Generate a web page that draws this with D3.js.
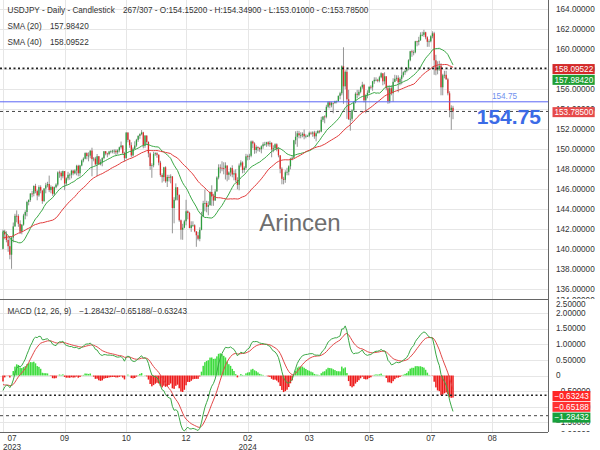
<!DOCTYPE html>
<html>
<head>
<meta charset="UTF-8">
<title>USDJPY Daily</title>
<script src="https://cdn.jsdelivr.net/npm/d3@7"></script>
<style>
    body{margin:0;padding:0;background:#fff;}
    svg{display:block;font-family:"Liberation Sans",Arial,sans-serif;}
    .grid line{stroke:#e6e6e6;stroke-width:1;shape-rendering:crispEdges;}
    .lbl{font-size:8.2px;fill:#333;}
    .axisline{stroke:#666;stroke-width:1;shape-rendering:crispEdges;}
</style>
</head>
<body>
<svg id="chart" width="600" height="450"></svg>
<script>
// closes before the first visible bar (only used to start SMA / MACD)
var warmup = [139.50,140.10,140.60,140.45,139.80,139.30,138.80,139.95,139.60,139.60,140.10,139.00,139.40,139.60,140.20,140.00,140.30,141.80,141.90,141.45,141.90,142.90,143.70,143.50,144.00,144.30,144.70,144.30,144.60,144.50,144.10,144.05,142.15,141.35,140.35,138.50,138.10,138.80,138.75,138.90,139.65,140.05];

// visible daily bars, 2023-07-21 .. 2024-07-26
var closes = [
 141.78,141.49,140.93,140.31,139.46,141.17,142.29,
 143.35,143.32,142.55,141.76,142.47,143.38,143.73,144.73,144.93,145.58,145.56,146.33,145.82,145.39,146.22,145.88,144.82,146.08,146.40,146.53,145.92,146.24,145.55,
 146.21,146.47,147.69,147.66,147.30,147.82,146.58,147.10,147.45,147.46,147.86,147.60,147.88,148.35,147.60,148.38,148.88,149.06,149.62,149.32,149.37,
 149.87,149.02,149.07,148.50,149.31,148.50,148.72,149.12,149.80,149.58,149.52,149.78,149.80,149.86,149.86,149.70,149.89,150.20,150.38,149.62,149.12,151.67,
 150.94,150.41,149.39,150.05,150.38,150.95,151.34,151.52,151.69,150.38,151.37,150.73,149.59,148.33,148.40,149.52,149.60,149.45,148.67,147.43,147.22,148.20,
 146.80,147.23,147.17,147.28,144.13,144.95,146.20,145.42,142.90,141.95,142.16,142.80,143.80,143.63,142.13,142.40,142.40,141.80,141.40,141.05,
 141.95,143.30,144.60,144.63,144.25,144.42,145.73,145.28,144.88,145.78,147.18,148.18,148.15,148.13,148.12,148.38,147.45,147.68,148.12,147.48,147.60,146.92,
 146.45,148.38,148.68,147.93,148.15,149.30,149.28,149.35,150.78,150.58,149.93,150.22,150.12,150.00,150.30,150.50,150.50,150.70,150.50,150.65,149.98,
 150.10,150.50,150.00,149.40,148.05,147.05,146.95,147.70,147.75,148.30,149.05,149.15,150.90,151.25,151.60,151.40,151.40,151.55,151.30,151.35,151.35,
 151.65,151.57,151.68,151.30,151.60,151.85,151.78,152.95,153.28,153.25,154.25,154.70,154.40,154.65,154.60,154.82,154.82,155.35,155.60,158.30,156.30,157.75,
 155.00,153.00,153.05,153.90,154.70,155.55,155.45,155.75,156.20,156.45,154.90,155.40,155.65,156.25,156.20,156.80,156.95,156.95,156.85,157.20,157.60,156.80,157.30,
 156.10,154.80,156.10,155.60,156.75,157.05,157.15,156.70,157.05,157.40,157.70,157.85,158.10,158.90,159.80,159.70,159.70,160.80,160.75,160.90,
 161.45,161.45,161.70,161.20,160.75,160.80,161.30,161.60,158.90,157.90,158.00,158.35,156.20,157.40,157.45,157.00,155.60,153.90,154.152,153.785
];
var highs = [
 141.95,141.95,141.80,141.20,141.32,141.30,142.68,
 143.55,143.89,143.50,142.90,142.50,143.55,143.90,144.85,145.00,145.60,145.85,146.40,146.55,145.95,146.40,146.40,145.90,146.10,146.65,146.75,147.37,146.40,146.30,
 146.28,146.60,147.80,147.87,147.82,147.88,147.05,147.20,147.75,147.60,147.95,147.95,148.00,148.45,148.45,148.45,148.97,149.19,149.70,149.70,149.70,
 149.90,150.16,149.22,149.25,149.53,149.25,149.00,149.20,149.83,149.83,149.65,149.85,149.90,149.95,150.00,150.00,150.00,150.27,150.78,150.40,149.75,151.72,
 151.71,150.98,150.70,150.19,150.80,151.05,151.40,151.60,151.92,151.75,151.42,151.40,150.80,149.70,148.60,149.75,149.70,149.70,149.50,148.85,147.60,148.25,
 148.30,147.45,147.45,147.50,147.33,145.21,146.59,146.15,145.50,142.98,142.55,142.95,144.95,143.90,143.75,142.80,142.80,142.50,141.70,141.75,
 142.20,143.75,144.85,145.98,144.85,144.80,145.80,146.40,145.55,146.00,147.30,148.50,148.50,148.80,148.70,148.70,148.35,147.80,148.20,148.40,147.90,148.00,
 147.20,148.58,148.90,148.80,148.30,149.55,149.48,149.55,150.88,150.88,150.70,150.40,150.30,150.20,150.40,150.70,150.75,150.75,150.80,150.85,150.70,
 150.40,150.60,150.60,150.20,149.40,148.20,147.25,147.90,148.15,148.40,149.15,149.30,150.95,151.80,151.85,151.85,151.70,151.70,151.98,151.50,151.45,
 151.78,151.77,151.80,151.85,151.80,151.90,151.90,153.25,153.32,153.40,154.45,154.80,154.80,154.75,154.65,154.86,154.88,155.37,155.75,158.40,160.20,157.90,
 157.99,155.95,153.70,154.00,154.80,155.70,155.95,155.95,156.30,156.75,156.55,155.50,155.90,156.30,156.40,156.85,157.20,157.20,157.05,157.35,157.70,157.55,157.70,
 157.30,156.40,156.40,156.40,157.10,157.45,157.40,157.40,157.20,158.25,157.80,157.95,158.20,159.00,159.85,159.95,159.90,160.85,160.85,161.25,
 161.70,161.75,161.95,161.75,161.30,161.00,161.40,161.80,161.75,159.45,158.80,158.85,158.60,157.55,157.85,157.85,157.15,155.80,154.40,154.349
];
var lows = [
 139.98,141.00,140.70,139.75,139.00,138.05,140.70,
 142.25,142.70,142.25,141.53,141.50,142.36,143.00,143.30,144.40,144.75,145.20,145.30,145.60,144.90,145.25,145.60,144.55,144.75,145.60,146.20,145.72,145.60,145.35,
 145.35,146.10,146.30,147.15,146.90,147.10,145.91,146.35,146.90,146.95,147.10,147.40,147.50,147.40,147.30,147.30,148.30,148.70,149.00,149.00,148.80,
 149.10,147.30,148.80,148.40,147.30,148.50,148.40,148.30,149.00,149.40,149.20,149.40,149.60,149.60,149.55,149.40,149.50,149.70,150.05,149.50,148.80,149.05,
 150.70,150.15,149.20,149.30,150.00,150.25,150.75,151.05,151.40,150.10,150.15,150.45,149.20,147.95,147.15,148.20,149.35,149.15,148.40,147.25,146.67,146.80,
 146.65,146.23,146.78,146.60,141.60,142.60,144.85,144.90,142.75,140.97,140.95,142.10,142.40,143.00,142.10,141.75,142.25,141.70,140.25,140.90,
 140.80,141.90,143.20,143.80,143.70,143.40,144.35,144.35,144.35,144.85,145.80,147.00,147.60,147.80,147.50,146.98,146.80,146.95,147.30,147.20,146.90,146.70,
 146.00,145.90,148.20,147.60,147.65,147.95,148.90,148.95,149.20,150.10,149.55,149.60,149.80,149.75,149.60,150.05,150.35,150.25,150.30,150.25,149.20,
 149.70,149.95,149.80,149.20,147.60,146.50,146.50,146.65,147.40,147.40,148.00,148.90,149.20,150.50,150.25,151.10,151.10,151.20,151.00,151.10,151.25,
 151.20,151.45,151.25,151.05,150.80,151.60,151.60,151.70,152.75,152.60,153.10,154.10,154.10,154.20,153.60,154.60,154.60,154.75,155.00,155.40,154.55,156.00,
 153.05,152.95,151.86,152.80,153.80,154.60,155.10,155.30,155.60,156.05,154.70,153.60,155.10,155.60,156.00,155.85,156.55,156.80,156.70,156.70,157.10,156.40,156.50,
 155.90,154.55,154.60,155.40,154.75,156.70,156.85,155.70,156.40,156.50,157.20,157.45,157.70,157.90,158.80,159.25,159.40,159.60,160.30,160.40,
 160.85,161.30,161.25,161.00,160.25,160.25,160.70,161.10,157.45,157.40,157.50,157.85,155.40,155.40,157.10,156.95,155.40,153.20,151.95,153.01
];

var priceTicks = [134,136,138,140,142,144,146,148,150,152,154,156,158,160,162,164];
var macdTicks = [-2,-1.5,-1,-0.5,0,0.5,1,1.5,2,2.5];
var xTickBars = [0,36,72,107,143,179,214,250,286];
var xTickLabels = [["07","2023"],["09"],["10"],["12"],["02","2024"],["03"],["05"],["07"],["08"]];

var smaPeriods = [20,40];
var smaLast = [157.98420,158.09522];
var macdLast = [-1.28432,-0.65188,-0.63243];   // macd, signal, histogram
var lastClose = 153.785;
var markLevel = 154.75;

var svg = d3.select("#chart");
var plotR = 548, priceBottom = 298.5, macdTop = 300, macdBottom = 432;

var n = Math.min(closes.length, highs.length, lows.length);
var x = d3.scaleLinear().domain([0, n-1]).range([3, 453]);
var yP = d3.scaleLinear().domain([134,164]).range([309.3, 9.3]);
var yM = d3.scaleLinear().domain([-2,2.5]).range([438.1, 297.25]);

// derived series
var all = warmup.concat(closes.slice(0,n));
var off = warmup.length;
var opens = closes.slice(0,n).map(function(c,i){ return i===0 ? warmup[off-1] : closes[i-1]; });
function sma(p){
    return closes.slice(0,n).map(function(c,i){ return d3.mean(all.slice(i+off-p+1, i+off+1)); });
}
function ema(arr,p){
    var k = 2/(p+1), prev = arr[0];
    return arr.map(function(v,i){ prev = i===0 ? v : v*k + prev*(1-k); return prev; });
}
var e12 = ema(all,12), e26 = ema(all,26);
var macdAll = all.map(function(v,i){ return e12[i]-e26[i]; });
var sigAll = ema(macdAll,9);
var macd = macdAll.slice(off), signal = sigAll.slice(off);
var hist = macd.map(function(v,i){ return v - signal[i]; });

var defs = svg.append("defs");
defs.append("clipPath").attr("id","clipP").append("rect")
    .attr("x",0).attr("y",0).attr("width",plotR).attr("height",priceBottom);
defs.append("clipPath").attr("id","clipM").append("rect")
    .attr("x",0).attr("y",macdTop).attr("width",plotR).attr("height",macdBottom-macdTop);
defs.append("clipPath").attr("id","clipPA").append("rect")
    .attr("x",plotR).attr("y",0).attr("width",52).attr("height",299);
defs.append("clipPath").attr("id","clipMA").append("rect")
    .attr("x",plotR).attr("y",300).attr("width",52).attr("height",132);

// grid
var grid = svg.append("g").attr("class","grid");
grid.selectAll(".v").data(xTickBars).enter().append("line")
    .attr("x1",function(d){ return Math.round(x(d))+0.5; })
    .attr("x2",function(d){ return Math.round(x(d))+0.5; })
    .attr("y1",0).attr("y2",macdBottom);
grid.append("g").attr("clip-path","url(#clipP)")
    .selectAll("line").data(priceTicks).enter().append("line")
    .attr("x1",0).attr("x2",plotR)
    .attr("y1",function(d){ return Math.round(yP(d))+0.5; })
    .attr("y2",function(d){ return Math.round(yP(d))+0.5; });
grid.append("g").attr("clip-path","url(#clipM)")
    .selectAll("line").data(macdTicks).enter().append("line")
    .attr("x1",0).attr("x2",plotR)
    .attr("y1",function(d){ return Math.round(yM(d))+0.5; })
    .attr("y2",function(d){ return Math.round(yM(d))+0.5; });

// watermark
svg.append("text").attr("x",300).attr("y",231).attr("text-anchor","middle")
    .style("font-size","24px").style("fill","#6e6e6e").text("Arincen");

// price panel
var pg = svg.append("g").attr("clip-path","url(#clipP)");
var idx = d3.range(n);

pg.selectAll(".wick").data(idx).enter().append("line")
    .attr("class","wick")
    .attr("x1",function(i){ return x(i); }).attr("x2",function(i){ return x(i); })
    .attr("y1",function(i){ return yP(Math.max(highs[i],opens[i],closes[i])); })
    .attr("y2",function(i){ return yP(Math.min(lows[i],opens[i],closes[i])); })
    .attr("stroke","#8a8a8a").attr("stroke-width",0.9);

pg.selectAll(".body").data(idx).enter().append("rect")
    .attr("class","body")
    .attr("x",function(i){ return x(i)-0.65; })
    .attr("width",1.3)
    .attr("y",function(i){ return yP(Math.max(opens[i],closes[i])); })
    .attr("height",function(i){ return Math.max(0.8, Math.abs(yP(opens[i])-yP(closes[i]))); })
    .attr("fill",function(i){ return closes[i]>=opens[i] ? "#2e9e3e" : "#e02828"; });

var smaColors = ["#3aa845","#e23b3b"];
smaPeriods.forEach(function(p,k){
    var s = sma(p);
    pg.append("path").datum(idx)
        .attr("fill","none").attr("stroke",smaColors[k]).attr("stroke-width",1)
        .attr("d", d3.line().x(function(i){ return x(i); }).y(function(i){ return yP(s[i]); }));
});

// level lines
pg.append("line").attr("x1",0).attr("x2",plotR)
    .attr("y1",yP(smaLast[1])).attr("y2",yP(smaLast[1]))
    .attr("stroke","#222").attr("stroke-width",1.6).attr("stroke-dasharray","2,2.5");
pg.append("line").attr("x1",0).attr("x2",plotR)
    .attr("y1",yP(lastClose)).attr("y2",yP(lastClose))
    .attr("stroke","#444").attr("stroke-width",1).attr("stroke-dasharray","3,3");
pg.append("line").attr("x1",0).attr("x2",plotR)
    .attr("y1",yP(markLevel)).attr("y2",yP(markLevel))
    .attr("stroke","#5a66f5").attr("stroke-width",1);
svg.append("text").attr("x",517).attr("y",yP(markLevel)-2.5).attr("text-anchor","end")
    .style("font-size","8.2px").style("fill","#7090ee").text(d3.format(".2f")(markLevel));
svg.append("text").attr("x",541).attr("y",yP(markLevel)+22).attr("text-anchor","end")
    .style("font-size","21px").style("font-weight","bold").style("fill","#3b6be6")
    .text(d3.format(".2f")(markLevel));

// MACD panel
var mg = svg.append("g").attr("clip-path","url(#clipM)");
mg.selectAll(".hist").data(idx).enter().append("rect")
    .attr("class","hist")
    .attr("x",function(i){ return x(i)-0.75; })
    .attr("width",1.5)
    .attr("y",function(i){ return Math.min(yM(0), yM(hist[i])); })
    .attr("height",function(i){ return Math.abs(yM(hist[i])-yM(0)); })
    .attr("fill",function(i){ return hist[i]>=0 ? "#3fdc3f" : "#ee1c1c"; });
mg.append("path").datum(idx)
    .attr("fill","none").attr("stroke","#e24848").attr("stroke-width",1)
    .attr("d", d3.line().x(function(i){ return x(i); }).y(function(i){ return yM(signal[i]); }));
mg.append("path").datum(idx)
    .attr("fill","none").attr("stroke","#3aa845").attr("stroke-width",1)
    .attr("d", d3.line().x(function(i){ return x(i); }).y(function(i){ return yM(macd[i]); }));
mg.append("line").attr("x1",0).attr("x2",plotR)
    .attr("y1",yM(macdLast[2])).attr("y2",yM(macdLast[2]))
    .attr("stroke","#222").attr("stroke-width",1.6).attr("stroke-dasharray","2,2.5");
mg.append("line").attr("x1",0).attr("x2",plotR)
    .attr("y1",yM(macdLast[0])).attr("y2",yM(macdLast[0]))
    .attr("stroke","#444").attr("stroke-width",1).attr("stroke-dasharray","3,3");

// axis frame
svg.append("line").attr("class","axisline").attr("x1",plotR+0.5).attr("x2",plotR+0.5).attr("y1",0).attr("y2",macdBottom);
svg.append("line").attr("class","axisline").attr("x1",0).attr("x2",plotR).attr("y1",299.5).attr("y2",299.5);
svg.append("line").attr("class","axisline").attr("x1",0).attr("x2",plotR).attr("y1",macdBottom+0.5).attr("y2",macdBottom+0.5);

// right axis labels
svg.append("g").attr("clip-path","url(#clipPA)")
    .selectAll("text").data(priceTicks).enter().append("text")
    .attr("class","lbl").attr("x",556)
    .attr("y",function(d){ return Math.min(yP(d), 300.5); }).attr("dy","0.35em")
    .text(function(d){ return d3.format(".5f")(d); });
svg.append("g").attr("clip-path","url(#clipMA)")
    .selectAll("text").data(macdTicks).enter().append("text")
    .attr("class","lbl").attr("x",556)
    .attr("y",function(d){ return Math.min(Math.max(yM(d), 304.5), 434); }).attr("dy","0.35em")
    .text(function(d){ return d===0 ? "0" : d3.format(".5f")(d); });

// value boxes
function boxes(items, scale){
    items.sort(function(a,b){ return scale(a.v)-scale(b.v); });
    var prev = -100;
    items.forEach(function(it){
        var cy = Math.max(scale(it.v)+0.7, prev+10.8);
        prev = cy;
        var t = svg.append("text").attr("class","lbl").attr("x",554.5).attr("y",cy).attr("dy","0.35em")
            .style("fill","#fff").text(d3.format(".5f")(it.v));
        var w = t.node().getComputedTextLength();
        svg.insert("rect", function(){ return t.node(); })
            .attr("x",552.5).attr("y",cy-5).attr("width",w+3.5).attr("height",10).attr("fill",it.c);
    });
}
boxes([{v:smaLast[1],c:"#d42a2a"},{v:smaLast[0],c:"#1f9e32"},{v:lastClose,c:"#e64a4a"}], yP);
boxes([{v:macdLast[2],c:"#ff2626"},{v:macdLast[1],c:"#ff3030"},{v:macdLast[0],c:"#17a03c"}], yM);

// x axis labels
var xl = svg.append("g");
xTickBars.forEach(function(b,k){
    var cx = Math.max(x(b), 12);
    xTickLabels[k].forEach(function(s,j){
        xl.append("text").attr("class","lbl").attr("x",cx).attr("y",440.5+j*9)
            .attr("text-anchor","middle").text(s);
    });
});

// legends
var lg = svg.append("g").attr("class","lbl");
lg.append("text").attr("class","lbl").attr("x",7.5).attr("y",13.3).text("USDJPY - Daily - Candlestick");
lg.append("text").attr("class","lbl").attr("x",123).attr("y",13.3)
    .text("267/307 - O:" + d3.format(".5f")(opens[n-1]) + " - H:" + d3.format(".5f")(highs[n-1]) +
          " - L:" + d3.format(".5f")(lows[n-1]) + " - C:" + d3.format(".5f")(closes[n-1]));
smaPeriods.forEach(function(p,k){
    lg.append("text").attr("class","lbl").attr("x",7.5).attr("y",29+k*16).text("SMA (" + p + ")");
    lg.append("text").attr("class","lbl").attr("x",50).attr("y",29+k*16).text(d3.format(".5f")(smaLast[k]));
});
lg.append("text").attr("class","lbl").attr("x",7.5).attr("y",314).text("MACD (12, 26, 9)");
lg.append("text").attr("class","lbl").attr("x",79.3).attr("y",314)
    .text(macdLast.map(function(v){ return d3.format(".5f")(v); }).join("/"));
</script>
</body>
</html>
